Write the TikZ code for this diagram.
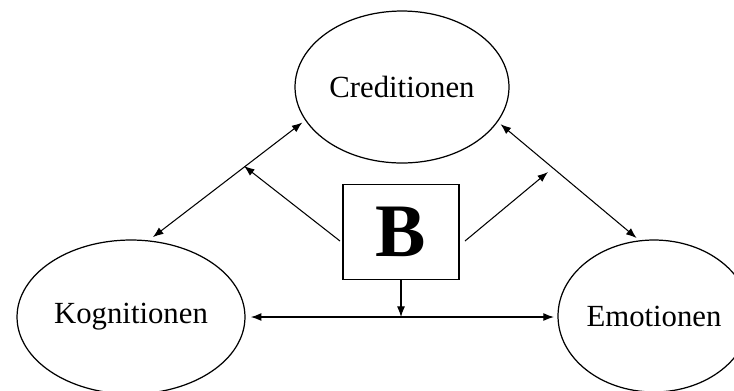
\documentclass[tikz,border=0pt]{standalone}
\usepackage{fontspec}
\setmainfont{Liberation Serif}
\usepackage{tikz}
\usetikzlibrary{arrows.meta}
\usetikzlibrary{shapes.geometric}

\begin{document}
\begin{tikzpicture}[x=0.02cm,y=-0.02cm,line width=0.6pt,>={Latex[length=6pt,width=4.5pt]}]
	\useasboundingbox (0,0) rectangle (734,390);
	\clip (0,0) rectangle (734,390);
	\tikzstyle{every node}=[draw,shape=ellipse,inner sep=0pt,line width=0.7pt,font=\fontsize{17.5}{20}\selectfont];
	\node[minimum width=4.28cm,minimum height=3.04cm] (cred) at (402,87) {Creditionen};
	\node[minimum width=4.56cm,minimum height=3.08cm] (kog) at (131,317) {Kognitionen};
	\node[minimum width=3.84cm,minimum height=3.04cm] (emo) at (654,316) {Emotionen};
	\tikzstyle{every node}=[draw,shape=rectangle,inner sep=0pt,line width=0.7pt,font=\fontsize{43}{46}\selectfont\bfseries];
	\node[minimum width=2.32cm,minimum height=1.9cm] (b) at (401,232) {B};
	\coordinate (bl) at (340,241);
	\coordinate (br) at (465,241);
	\coordinate (cl) at (244,166);
	\coordinate (cr) at (548,172);
	\coordinate (mid) at (b.south |- kog.east);
	\draw[<->,shorten <=3pt,shorten >=2pt] (kog.77) -- (cred.199);
	\draw[<->,shorten <=2pt,shorten >=2pt] (cred.-20) -- (emo.101);
	\draw[->] (bl) -- (cl);
	\draw[->] (br) -- (cr);
	\draw[<->,shorten <=3pt,shorten >=2pt] (kog.east) -- (kog.east -| emo.west);
	\draw[->] (b.south) -- (mid);
\end{tikzpicture}
\end{document}
